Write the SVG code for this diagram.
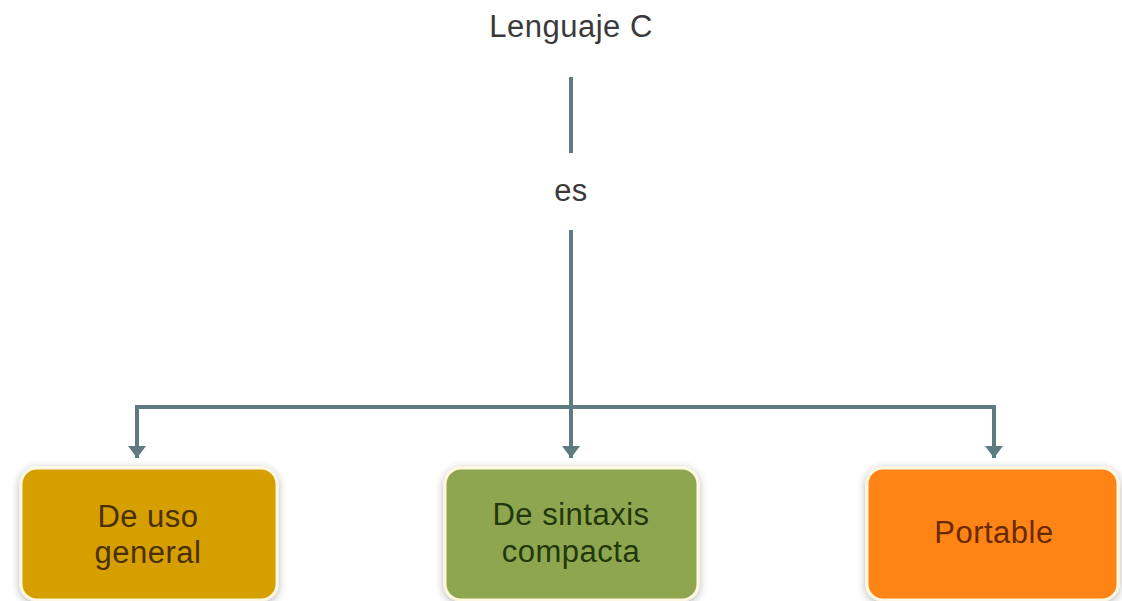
<svg xmlns="http://www.w3.org/2000/svg" width="1122" height="601" viewBox="0 0 1122 601">
<defs>
<marker id="arr" markerWidth="3" markerHeight="5" refX="3" refY="2.25" orient="auto" markerUnits="strokeWidth">
<path d="M0,0 L3,2.25 L0,4.5 Z" fill="#5f7a80"/>
</marker>
<filter id="sh" x="-10%" y="-10%" width="120%" height="130%">
<feGaussianBlur in="SourceAlpha" stdDeviation="4"/>
<feOffset dx="0" dy="2" result="b"/>
<feComponentTransfer><feFuncA type="linear" slope="0.3"/></feComponentTransfer>
<feMerge><feMergeNode/><feMergeNode in="SourceGraphic"/></feMerge>
</filter>
</defs>
<style>
text{font-family:"Liberation Sans",Arial,sans-serif;font-size:31px;letter-spacing:0.5px;text-anchor:middle}
.lbl{fill:#3a3a3a}
.ln{stroke:#5f7a80;stroke-width:4;fill:none}
.box{stroke:#fff8e0;stroke-width:3}
</style>
<rect width="1122" height="601" fill="#ffffff"/>
<g id="connectors">
<line class="ln" x1="571" y1="77" x2="571" y2="153"/>
<line class="ln" x1="571" y1="230" x2="571" y2="407"/>
<path class="ln" d="M137,407 L994,407"/>
<line class="ln" x1="137" y1="405" x2="137" y2="458" marker-end="url(#arr)"/>
<line class="ln" x1="571" y1="405" x2="571" y2="458" marker-end="url(#arr)"/>
<line class="ln" x1="994" y1="405" x2="994" y2="458" marker-end="url(#arr)"/>
</g>
<g id="title"><text class="lbl" x="571" y="37">Lenguaje C</text></g>
<g id="es"><text class="lbl" x="571" y="201">es</text></g>
<g id="n1">
<rect class="box" x="21" y="468" width="256" height="132" rx="16" fill="#d69f00" filter="url(#sh)"/>
<text x="148" y="527" fill="#4a3000">De uso</text>
<text x="148" y="563" fill="#4a3000">general</text>
</g>
<g id="n2">
<rect class="box" x="445" y="468" width="253" height="132" rx="16" fill="#8ea650" filter="url(#sh)"/>
<text x="571" y="525" fill="#22380a">De sintaxis</text>
<text x="571" y="562" fill="#22380a">compacta</text>
</g>
<g id="n3">
<rect class="box" x="867" y="468" width="251" height="132" rx="16" fill="#ff8414" filter="url(#sh)"/>
<text x="994" y="543" fill="#6a2a00">Portable</text>
</g>
</svg>
